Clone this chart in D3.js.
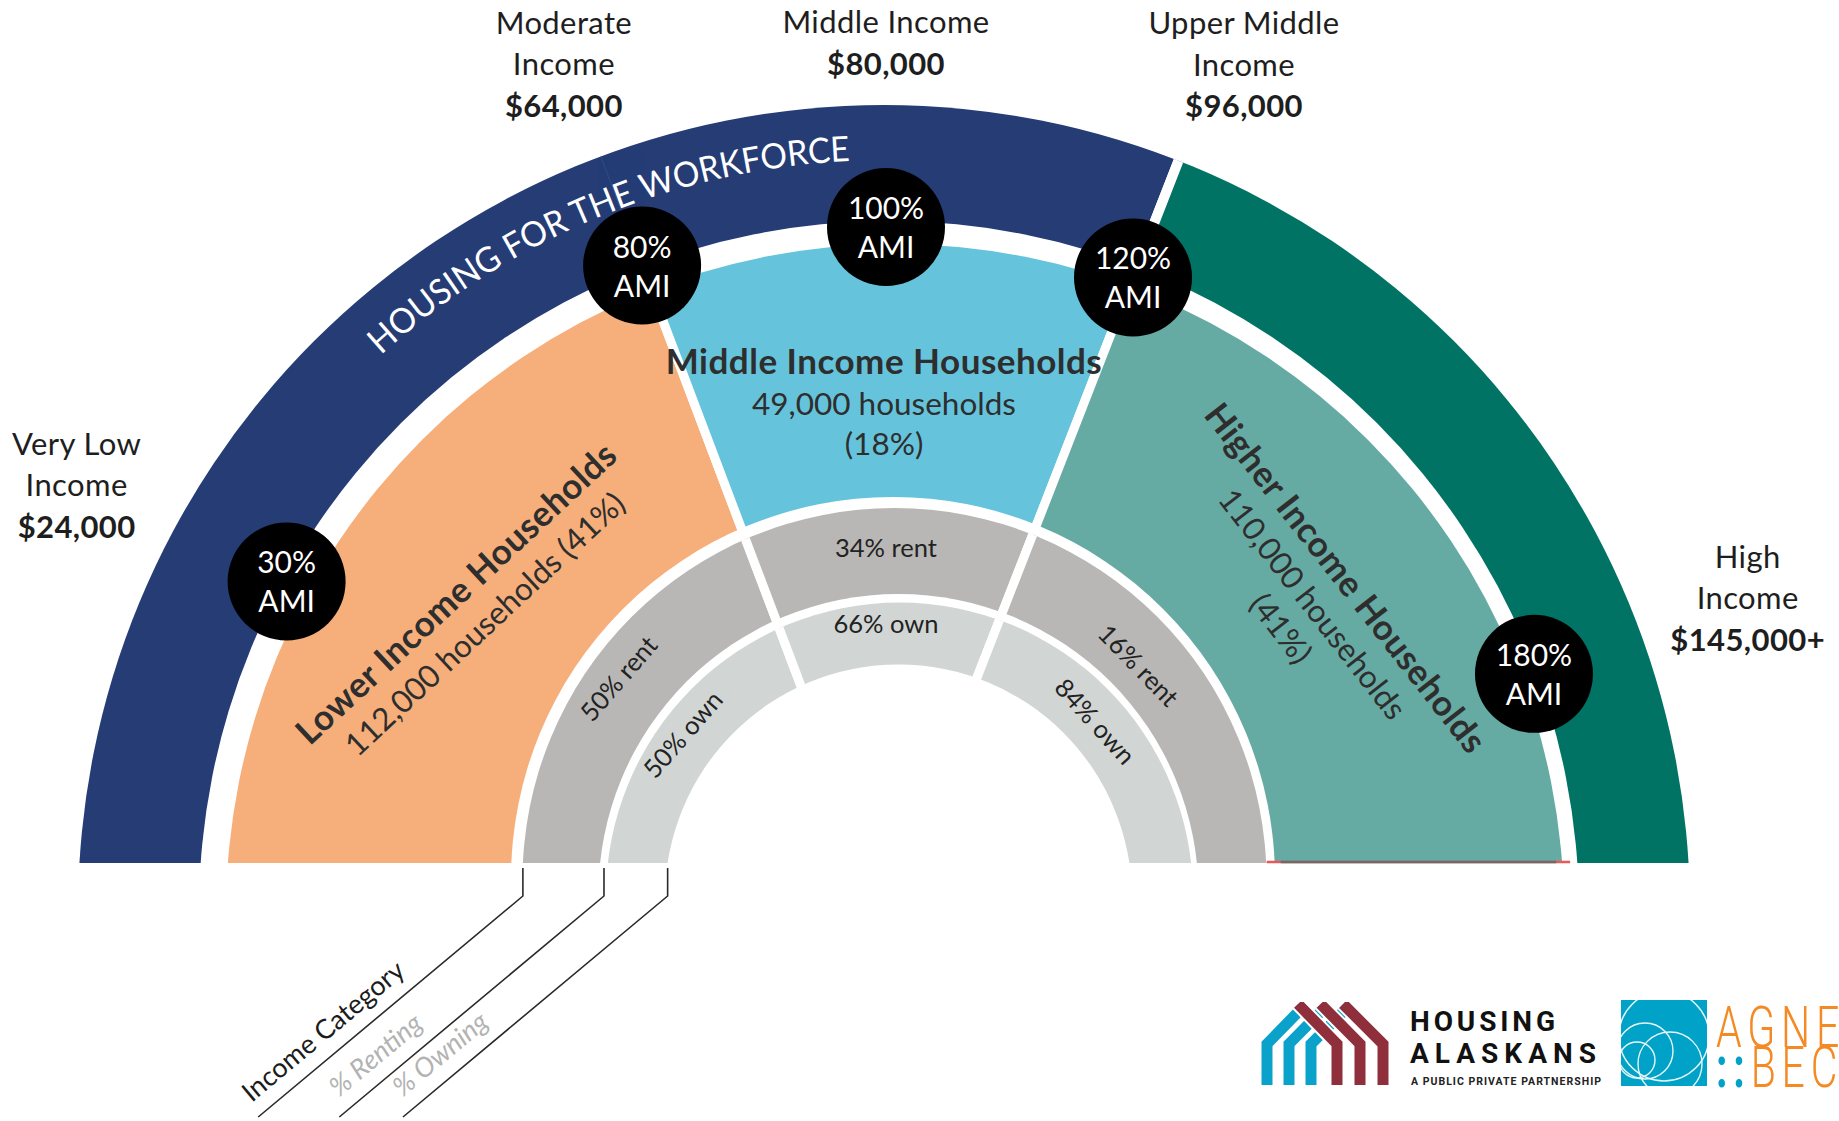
<!DOCTYPE html>
<html><head><meta charset="utf-8">
<script src="https://cdn.jsdelivr.net/npm/d3@7"></script>
<style>html,body{margin:0;padding:0;background:#fff;} svg{display:block;}</style>
</head><body>
<svg id="chart" width="1839" height="1121"></svg>
<script>
// ---------------- DATA ----------------
const incomeCategories = [["Very Low","Income"],["Moderate","Income"],["Middle Income"],["Upper Middle","Income"],["High","Income"]];
const incomeValues = ["$24,000","$64,000","$80,000","$96,000","$145,000+"];
const amiLevels = [30, 80, 100, 120, 180];
// angular position (degrees from vertical) of each AMI level
const amiAngles = [-61.2, -20.7, 0, 21.3, 69.9];
const bandNames = ["HOUSING FOR THE WORKFORCE", "High Income"];
const bandAmiBounds = [[0,120],[120,200]];
const groupNames = ["Lower Income Households","Middle Income Households","Higher Income Households"];
const groupHouseholds = [112000, 49000, 110000];
const groupShare = [41, 18, 41];
const groupAmiBounds = [[0,80],[80,120],[120,200]];
const rentShare = [50, 34, 16];
const ownShare = [50, 66, 84];
const legendLabels = ["Income Category", "% Renting", "% Owning"];

// ---------------- LAYOUT / STYLE ----------------
const W = 1839, H = 1121;
const C = {x: 886, y: 911};      // angular centre
const baseY = 863;               // flat base of the half-disc
const FONT = "Lato, 'Open Sans', 'Noto Sans', sans-serif";
const bandColors = ["#253c75", "#017365"];
const groupColors = ["#f6af7a", "#65c4dc", "#66aba3"];
const rentColor = "#b8b7b5", ownColor = "#d1d6d4";
const ringGeom = [
  {outer:{cx:884, d:48, r:806},   inner:{cx:889, d:48, r:690}},
  {outer:{cx:895, d:50, r:669},   inner:{cx:893, d:16, r:382}},
  {outer:{cx:894.5, d:17, r:372}, inner:{cx:898.5, d:31, r:300}},
  {outer:{cx:899.5, d:33, r:293.5}, inner:{cx:898.5, d:35, r:233.5}}
];
const amiCircleRadius = [684, 690, 684, 680, 690];

const angle = d3.scaleLinear().domain([0, ...amiLevels, 200]).range([-95, ...amiAngles, 95]);
const rad = d => d * Math.PI / 180;
const polar = (deg, r) => [C.x + r * Math.sin(rad(deg)), C.y - r * Math.cos(rad(deg))];

const svg = d3.select("#chart");
const defs = svg.append("defs");
defs.append("clipPath").attr("id", "clip-base").append("rect")
  .attr("x", 0).attr("y", 0).attr("width", W).attr("height", baseY);

const chart = svg.append("g").attr("clip-path", "url(#clip-base)");
const wedgeArc = d3.arc().innerRadius(0).outerRadius(1100);

const ringData = [
  bandNames.map((n, i) => ({name: n, a: bandAmiBounds[i], color: bandColors[i]})),
  groupNames.map((n, i) => ({name: n, a: groupAmiBounds[i], color: groupColors[i]})),
  groupNames.map((n, i) => ({name: n, a: groupAmiBounds[i], color: rentColor, v: rentShare[i]})),
  groupNames.map((n, i) => ({name: n, a: groupAmiBounds[i], color: ownColor, v: ownShare[i]}))
];

ringData.forEach((wedges, k) => {
  const g = ringGeom[k];
  defs.append("clipPath").attr("id", "clip-ring-" + k).append("circle")
    .attr("cx", g.outer.cx).attr("cy", baseY + g.outer.d).attr("r", g.outer.r);
  const rg = chart.append("g").attr("clip-path", "url(#clip-ring-" + k + ")");
  rg.append("g").attr("transform", `translate(${C.x},${C.y})`)
    .selectAll("path").data(wedges).join("path")
    .attr("d", d => wedgeArc({startAngle: rad(angle(d.a[0])), endAngle: rad(angle(d.a[1]))}))
    .attr("fill", d => d.color)
    .attr("stroke", "#fff").attr("stroke-width", k === 0 ? 10 : 9);
  if (k === 0) {
    // faint seam in the workforce band at 80% AMI
    const p0 = polar(angle(80), g.inner.r - 5), p1 = polar(angle(80), g.outer.r + 5);
    rg.append("line").attr("x1", p0[0]).attr("y1", p0[1]).attr("x2", p1[0]).attr("y2", p1[1])
      .attr("stroke", "#3b5289").attr("stroke-width", 1.2).attr("opacity", 0.6);
  }
  chart.append("circle").attr("cx", g.inner.cx).attr("cy", baseY + g.inner.d).attr("r", g.inner.r)
    .attr("fill", "#fff");
});

// thin base line under the higher-income sector
(function(){
  const g1 = ringGeom[1];
  const xin = g1.inner.cx + Math.sqrt(g1.inner.r**2 - g1.inner.d**2);
  const xout = g1.outer.cx + Math.sqrt(g1.outer.r**2 - g1.outer.d**2);
  svg.append("line").attr("x1", xin - 8).attr("x2", xout + 8).attr("y1", baseY - 1).attr("y2", baseY - 1)
    .attr("stroke", "#e8595a").attr("stroke-width", 2.5);
  svg.append("line").attr("x1", xin + 6).attr("x2", xout - 6).attr("y1", baseY - 1).attr("y2", baseY - 1)
    .attr("stroke", "#6b6b68").attr("stroke-width", 2.5);
})();

// ---- arc text: HOUSING FOR THE WORKFORCE ----
(function(){
  const rText = 751, mid = -22.5, span = 80;
  const p = d3.path();
  p.arc(C.x, C.y, rText, rad(mid - span/2 - 90), rad(mid + span/2 - 90));
  defs.append("path").attr("id", "band-text-path").attr("d", p.toString());
  svg.append("text").attr("font-family", FONT).attr("font-size", 35).attr("fill", "#fff")
    .append("textPath").attr("href", "#band-text-path").attr("startOffset", "50%")
    .attr("text-anchor", "middle").attr("textLength", 518).attr("lengthAdjust", "spacingAndGlyphs")
    .text(bandNames[0]);
})();

// ---- group labels ----
const fmt = d3.format(",");
const groupLabelLayout = [
  {x: 455, y: 592, rot: -43, lines: 2},
  {x: 884, y: 360, rot: 0, lines: 3},
  {x: 1347, y: 577, rot: 52, lines: 3}
];
groupNames.forEach((name, i) => {
  const L = groupLabelLayout[i];
  const gg = svg.append("g").attr("transform", `translate(${L.x},${L.y}) rotate(${L.rot})`)
    .attr("font-family", FONT).attr("fill", "#2e2e2e").attr("text-anchor", "middle");
  gg.append("text").attr("dominant-baseline", "central").attr("font-weight", 700)
    .attr("font-size", 35).attr("letter-spacing", 0.5).text(name);
  const hh = fmt(groupHouseholds[i]) + " households";
  const sh = "(" + groupShare[i] + "%)";
  const rest = L.lines === 2 ? [hh + " " + sh] : [hh, sh];
  rest.forEach((t, j) => gg.append("text").attr("dominant-baseline", "central")
    .attr("y", 43 * (j + 1) + (j === 1 ? -3 : 0)).attr("font-size", 31.5).text(t));
});

// ---- rent / own labels ----
const tenureRings = [
  {vals: rentShare, word: "rent", pos: [[-49, 355], [0, 364.5], [45.8, 353]]},
  {vals: ownShare, word: "own", pos: [[-49, 270], [0, 288], [47.8, 283]]}
];
tenureRings.forEach(t => {
  t.vals.forEach((v, i) => {
    const [a, r] = t.pos[i];
    const [x, y] = polar(a, r);
    svg.append("text").attr("transform", `translate(${x},${y}) rotate(${a})`)
      .attr("text-anchor", "middle").attr("dominant-baseline", "central")
      .attr("font-family", FONT).attr("font-size", 25.5).attr("fill", "#222")
      .text(v + "% " + t.word);
  });
});

// ---- AMI circles ----
const amiG = svg.append("g").selectAll("g").data(amiLevels).join("g")
  .attr("transform", (d, i) => { const [x, y] = polar(angle(d), amiCircleRadius[i]); return `translate(${x},${y})`; });
amiG.append("circle").attr("r", 59).attr("fill", "#000");
amiG.append("text").attr("y", -20).text(d => d + "%");
amiG.append("text").attr("y", 19).text("AMI");
amiG.selectAll("text").attr("text-anchor", "middle").attr("dominant-baseline", "central")
  .attr("font-family", FONT).attr("font-size", 30).attr("fill", "#fff");

// ---- income category labels around the outside ----
const labelNudge = [-1.0, -0.1, 0, 1.6, 0.1];
const labelRadius = [915, 907, 907, 920, 917];
incomeCategories.forEach((lines, i) => {
  const all = [...lines, incomeValues[i]];
  let [x, y] = polar(angle(amiLevels[i]) + labelNudge[i], labelRadius[i]);
  const lh = 41.5;
  let top = y - (all.length - 1) * lh / 2;
  if (top < 21) top = 21;
  all.forEach((t, j) => svg.append("text").attr("x", x).attr("y", top + j * lh)
    .attr("text-anchor", "middle").attr("dominant-baseline", "central")
    .attr("font-family", FONT).attr("font-size", 31).attr("letter-spacing", 0.4).attr("fill", "#1e1e1e")
    .attr("font-weight", j === all.length - 1 ? 700 : 400).text(t));
});

// ---- legend leader lines ----
(function(){
  const g2 = ringGeom[2], g3 = ringGeom[3];
  const xs = [
    g2.outer.cx - Math.sqrt(g2.outer.r**2 - g2.outer.d**2),
    (g2.inner.cx - Math.sqrt(g2.inner.r**2 - g2.inner.d**2) + g3.outer.cx - Math.sqrt(g3.outer.r**2 - g3.outer.d**2)) / 2,
    g3.inner.cx - Math.sqrt(g3.inner.r**2 - g3.inner.d**2)
  ];
  const bendY = 896, endY = 1117, slope = 0.835;
  const colors = ["#1c1c1c", "#b3b3b3", "#b3b3b3"];
  xs.forEach((x0, i) => {
    const xEnd = x0 - (endY - bendY) / slope;
    svg.append("path").attr("d", d3.line()([[x0, baseY + 5], [x0, bendY], [xEnd, endY]]))
      .attr("fill", "none").attr("stroke", "#2a2a2a").attr("stroke-width", 1.6);
    const ang = -Math.atan(slope) * 180 / Math.PI;
    const along = [4, 12, 12][i];
    svg.append("text").attr("transform", `translate(${xEnd},${endY}) rotate(${ang})`)
      .attr("x", along).attr("y", -15)
      .attr("font-family", FONT).attr("font-size", 27).attr("fill", colors[i])
      .attr("font-style", i === 0 ? "normal" : "italic")
      .text(legendLabels[i]);
  });
})();

// ---- logos ----
(function(){
  const lg = svg.append("g");
  const blue = "#0aa2cb", red = "#8f2f3b";
  const bx = [1267, 1289, 1311], rx = [1337, 1360, 1383];
  const bottom = 1085, shoulder = 1044, apexY = 1008;
  bx.forEach((x, i) => {
    const ax = (x + rx[i]) / 2;
    lg.append("path").attr("d", d3.line()([[x, bottom], [x, shoulder], [ax, apexY]]))
      .attr("fill", "none").attr("stroke", blue).attr("stroke-width", 11).attr("stroke-linejoin", "miter");
  });
  bx.forEach((x, i) => {
    const ax = (x + rx[i]) / 2;
    const pts = [[ax - 4, apexY - 4], [rx[i], shoulder], [rx[i], bottom]];
    lg.append("path").attr("d", d3.line()(pts)).attr("fill", "none")
      .attr("stroke", "#fff").attr("stroke-width", 15);
    lg.append("path").attr("d", d3.line()(pts)).attr("fill", "none")
      .attr("stroke", red).attr("stroke-width", 11).attr("stroke-linejoin", "miter");
  });
  lg.append("rect").attr("x", 1250).attr("y", 990).attr("width", 150).attr("height", 12).attr("fill", "#fff");
  lg.append("text").attr("x", 1410).attr("y", 1031).text("HOUSING").attr("textLength", 145)
    .attr("font-family", "Roboto, sans-serif").attr("font-weight", 700).attr("font-size", 28).attr("fill", "#111");
  lg.append("text").attr("x", 1410).attr("y", 1063).text("ALASKANS").attr("textLength", 186)
    .attr("font-family", "Roboto, sans-serif").attr("font-weight", 700).attr("font-size", 28).attr("fill", "#111");
  lg.append("text").attr("x", 1411).attr("y", 1085).text("A PUBLIC PRIVATE PARTNERSHIP").attr("textLength", 190)
    .attr("font-family", "Roboto, sans-serif").attr("font-weight", 700).attr("font-size", 10.5).attr("fill", "#222");
  // Agnew::Beck
  defs.append("clipPath").attr("id", "clip-ab").append("rect")
    .attr("x", 1621).attr("y", 1000).attr("width", 86).attr("height", 86);
  lg.append("rect").attr("x", 1621).attr("y", 1000).attr("width", 86).attr("height", 86).attr("fill", "#00a2c7");
  const cl = lg.append("g").attr("clip-path", "url(#clip-ab)").attr("fill", "none")
    .attr("stroke", "#e8f6fa").attr("stroke-width", 1.4);
  [[1664, 1036, 45], [1645, 1051, 28], [1637, 1060, 18], [1670, 1064, 32]].forEach(c =>
    cl.append("circle").attr("cx", c[0]).attr("cy", c[1]).attr("r", c[2]));
  const ag = lg.append("g").attr("transform", "translate(1716,0) scale(0.72,1)");
  ag.append("text").attr("x", 0).attr("y", 1047).text("AGNEW")
    .attr("font-family", "Roboto, sans-serif").attr("font-weight", 300).attr("font-size", 57).attr("letter-spacing", 8).attr("fill", "#f58a24");
  const t2 = ag.append("text").attr("x", 0).attr("y", 1087)
    .attr("font-family", "Roboto, sans-serif").attr("font-weight", 300).attr("font-size", 57).attr("letter-spacing", 8);
  t2.append("tspan").attr("fill", "#00a2c7").attr("font-weight", 700).text("::");
  t2.append("tspan").attr("fill", "#f58a24").text("BECK");
})();
</script>
</body></html>
